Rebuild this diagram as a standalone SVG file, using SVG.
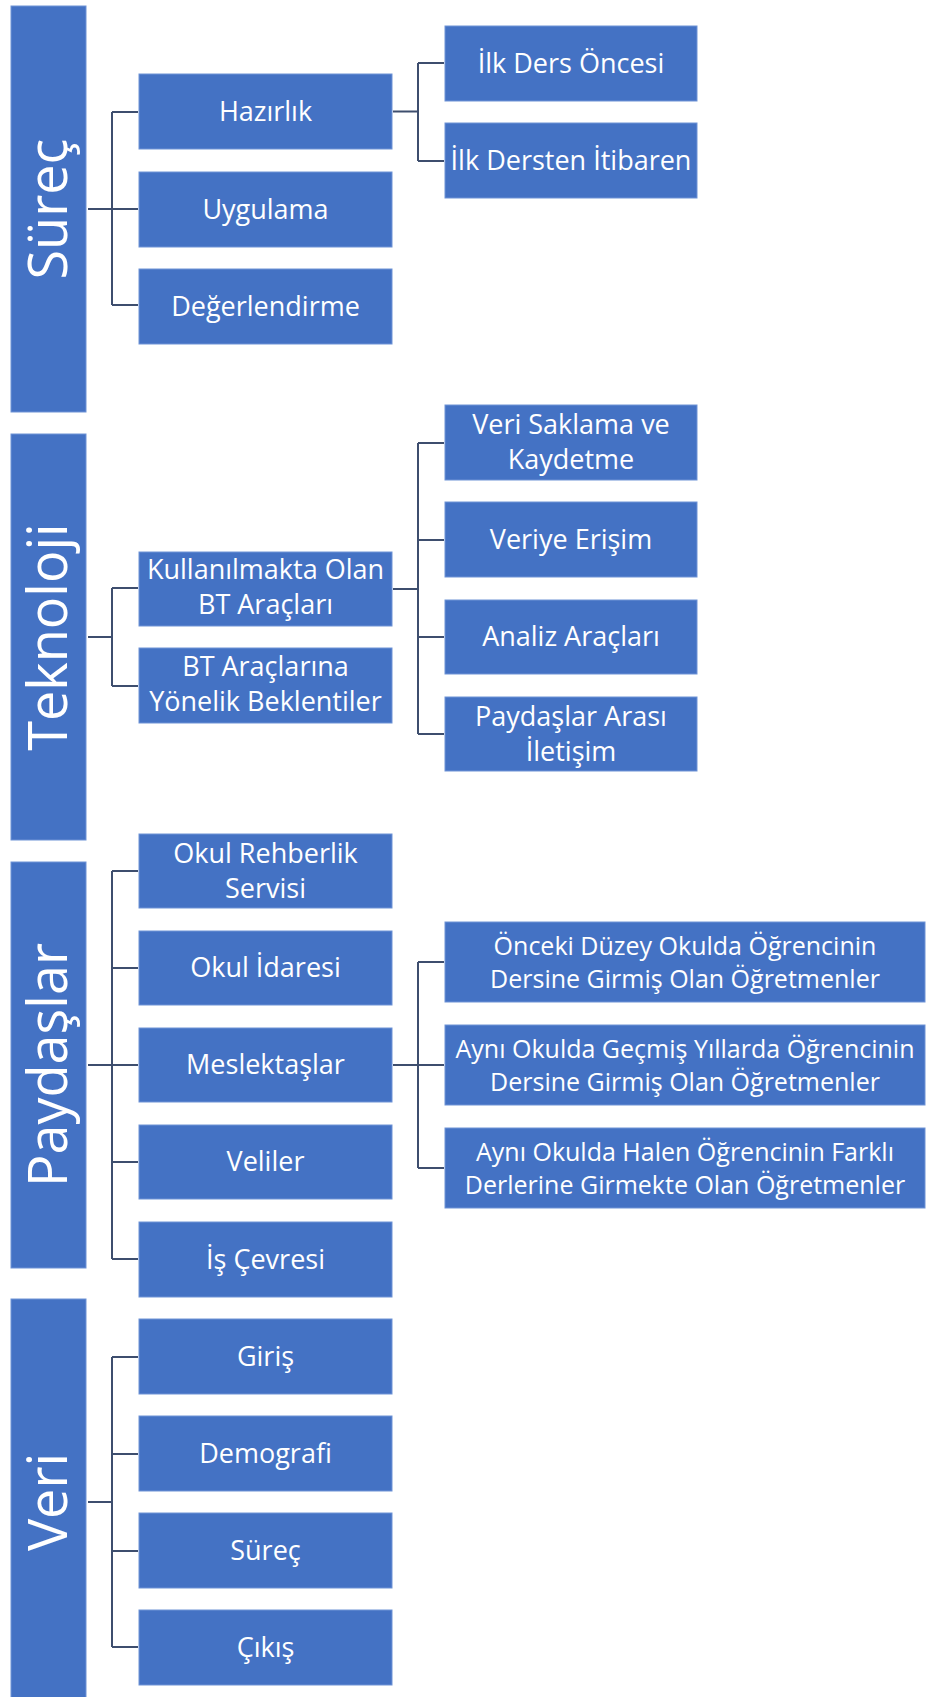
<svg xmlns="http://www.w3.org/2000/svg" width="927" height="1697" viewBox="0 0 927 1697">
  <style>
    .box { fill: #4472C4; stroke: #6E93D6; stroke-width: 1; }
    .lbl { fill: #FFFFFF; font-family: "Open Sans", "Noto Sans", "Liberation Sans", sans-serif; font-size: 27px; text-anchor: middle; }
    .lbl-s { font-size: 25px; }
    .root { font-size: 54px; }
    .conn { fill: none; stroke: #3E4E6E; stroke-width: 2; }
  </style>
  <rect width="927" height="1697" fill="#FFFFFF"/>

  <!-- connectors -->
  <g id="connectors">
    <!-- Süreç -->
    <path class="conn" d="M88 209H112M112 112V305M112 112H138M112 209H138M112 305H138"/>
    <path class="conn" d="M393 111.5H418M418 63V161M418 63H444M418 161H444"/>
    <!-- Teknoloji -->
    <path class="conn" d="M88 637H112M112 588V686M112 588H138M112 686H138"/>
    <path class="conn" d="M393 589H418M418 443V734M418 443H444M418 540H444M418 637H444M418 734H444"/>
    <!-- Paydaşlar -->
    <path class="conn" d="M88 1065H112M112 871V1259M112 871H138M112 968H138M112 1065H138M112 1162H138M112 1259H138"/>
    <path class="conn" d="M393 1065H418M418 962V1168M418 962H444M418 1065H444M418 1168H444"/>
    <!-- Veri -->
    <path class="conn" d="M88 1502H112M112 1357V1647M112 1357H138M112 1454H138M112 1551H138M112 1647H138"/>
  </g>

  <!-- Süreç -->
  <g id="surec">
    <rect class="box" x="11" y="6" width="75" height="406"/>
    <text class="lbl root" transform="translate(67 209) rotate(-90)">Süreç</text>
  </g>
  <g id="hazirlik">
    <rect class="box" x="139" y="74" width="253" height="75"/>
    <text class="lbl" x="265.5" y="121">Hazırlık</text>
  </g>
  <g id="uygulama">
    <rect class="box" x="139" y="172" width="253" height="75"/>
    <text class="lbl" x="265.5" y="219">Uygulama</text>
  </g>
  <g id="degerlendirme">
    <rect class="box" x="139" y="269" width="253" height="75"/>
    <text class="lbl" x="265.5" y="316">Değerlendirme</text>
  </g>
  <g id="ilk-ders-oncesi">
    <rect class="box" x="445" y="26" width="252" height="75"/>
    <text class="lbl" x="571" y="73">İlk Ders Öncesi</text>
  </g>
  <g id="ilk-dersten-itibaren">
    <rect class="box" x="445" y="123" width="252" height="75"/>
    <text class="lbl" x="571" y="170">İlk Dersten İtibaren</text>
  </g>

  <!-- Teknoloji -->
  <g id="teknoloji">
    <rect class="box" x="11" y="434" width="75" height="406"/>
    <text class="lbl root" transform="translate(67 637) rotate(-90)">Teknoloji</text>
  </g>
  <g id="kullanilmakta">
    <rect class="box" x="139" y="552" width="253" height="74"/>
    <text class="lbl" x="265.5" y="579">Kullanılmakta Olan</text>
    <text class="lbl" x="265.5" y="614">BT Araçları</text>
  </g>
  <g id="bt-beklentiler">
    <rect class="box" x="139" y="648" width="253" height="75"/>
    <text class="lbl" x="265.5" y="676">BT Araçlarına</text>
    <text class="lbl" x="265.5" y="711">Yönelik Beklentiler</text>
  </g>
  <g id="veri-saklama">
    <rect class="box" x="445" y="405" width="252" height="75"/>
    <text class="lbl" x="571" y="434">Veri Saklama ve</text>
    <text class="lbl" x="571" y="469">Kaydetme</text>
  </g>
  <g id="veriye-erisim">
    <rect class="box" x="445" y="502" width="252" height="75"/>
    <text class="lbl" x="571" y="549">Veriye Erişim</text>
  </g>
  <g id="analiz-araclari">
    <rect class="box" x="445" y="600" width="252" height="74"/>
    <text class="lbl" x="571" y="646">Analiz Araçları</text>
  </g>
  <g id="paydaslar-arasi">
    <rect class="box" x="445" y="697" width="252" height="74"/>
    <text class="lbl" x="571" y="726">Paydaşlar Arası</text>
    <text class="lbl" x="571" y="761">İletişim</text>
  </g>

  <!-- Paydaşlar -->
  <g id="paydaslar">
    <rect class="box" x="11" y="862" width="75" height="406"/>
    <text class="lbl root" transform="translate(67 1065) rotate(-90)">Paydaşlar</text>
  </g>
  <g id="okul-rehberlik">
    <rect class="box" x="139" y="834" width="253" height="74"/>
    <text class="lbl" x="265.5" y="863">Okul Rehberlik</text>
    <text class="lbl" x="265.5" y="898">Servisi</text>
  </g>
  <g id="okul-idaresi">
    <rect class="box" x="139" y="931" width="253" height="74"/>
    <text class="lbl" x="265.5" y="977">Okul İdaresi</text>
  </g>
  <g id="meslektaslar">
    <rect class="box" x="139" y="1028" width="253" height="74"/>
    <text class="lbl" x="265.5" y="1074">Meslektaşlar</text>
  </g>
  <g id="veliler">
    <rect class="box" x="139" y="1125" width="253" height="74"/>
    <text class="lbl" x="265.5" y="1171">Veliler</text>
  </g>
  <g id="is-cevresi">
    <rect class="box" x="139" y="1222" width="253" height="75"/>
    <text class="lbl" x="265.5" y="1269">İş Çevresi</text>
  </g>
  <g id="onceki-duzey">
    <rect class="box" x="445" y="922" width="480" height="80"/>
    <text class="lbl lbl-s" x="685" y="955">Önceki Düzey Okulda Öğrencinin</text>
    <text class="lbl lbl-s" x="685" y="988">Dersine Girmiş Olan Öğretmenler</text>
  </g>
  <g id="gecmis-yillar">
    <rect class="box" x="445" y="1025" width="480" height="80"/>
    <text class="lbl lbl-s" x="685" y="1058">Aynı Okulda Geçmiş Yıllarda Öğrencinin</text>
    <text class="lbl lbl-s" x="685" y="1091">Dersine Girmiş Olan Öğretmenler</text>
  </g>
  <g id="halen-farkli">
    <rect class="box" x="445" y="1128" width="480" height="80"/>
    <text class="lbl lbl-s" x="685" y="1161">Aynı Okulda Halen Öğrencinin Farklı</text>
    <text class="lbl lbl-s" x="685" y="1194">Derlerine Girmekte Olan Öğretmenler</text>
  </g>

  <!-- Veri -->
  <g id="veri">
    <rect class="box" x="11" y="1299" width="75" height="406"/>
    <text class="lbl root" transform="translate(67 1502) rotate(-90)">Veri</text>
  </g>
  <g id="giris">
    <rect class="box" x="139" y="1319" width="253" height="75"/>
    <text class="lbl" x="265.5" y="1366">Giriş</text>
  </g>
  <g id="demografi">
    <rect class="box" x="139" y="1416" width="253" height="75"/>
    <text class="lbl" x="265.5" y="1463">Demografi</text>
  </g>
  <g id="surec-veri">
    <rect class="box" x="139" y="1513" width="253" height="75"/>
    <text class="lbl" x="265.5" y="1560">Süreç</text>
  </g>
  <g id="cikis">
    <rect class="box" x="139" y="1610" width="253" height="75"/>
    <text class="lbl" x="265.5" y="1657">Çıkış</text>
  </g>
</svg>
